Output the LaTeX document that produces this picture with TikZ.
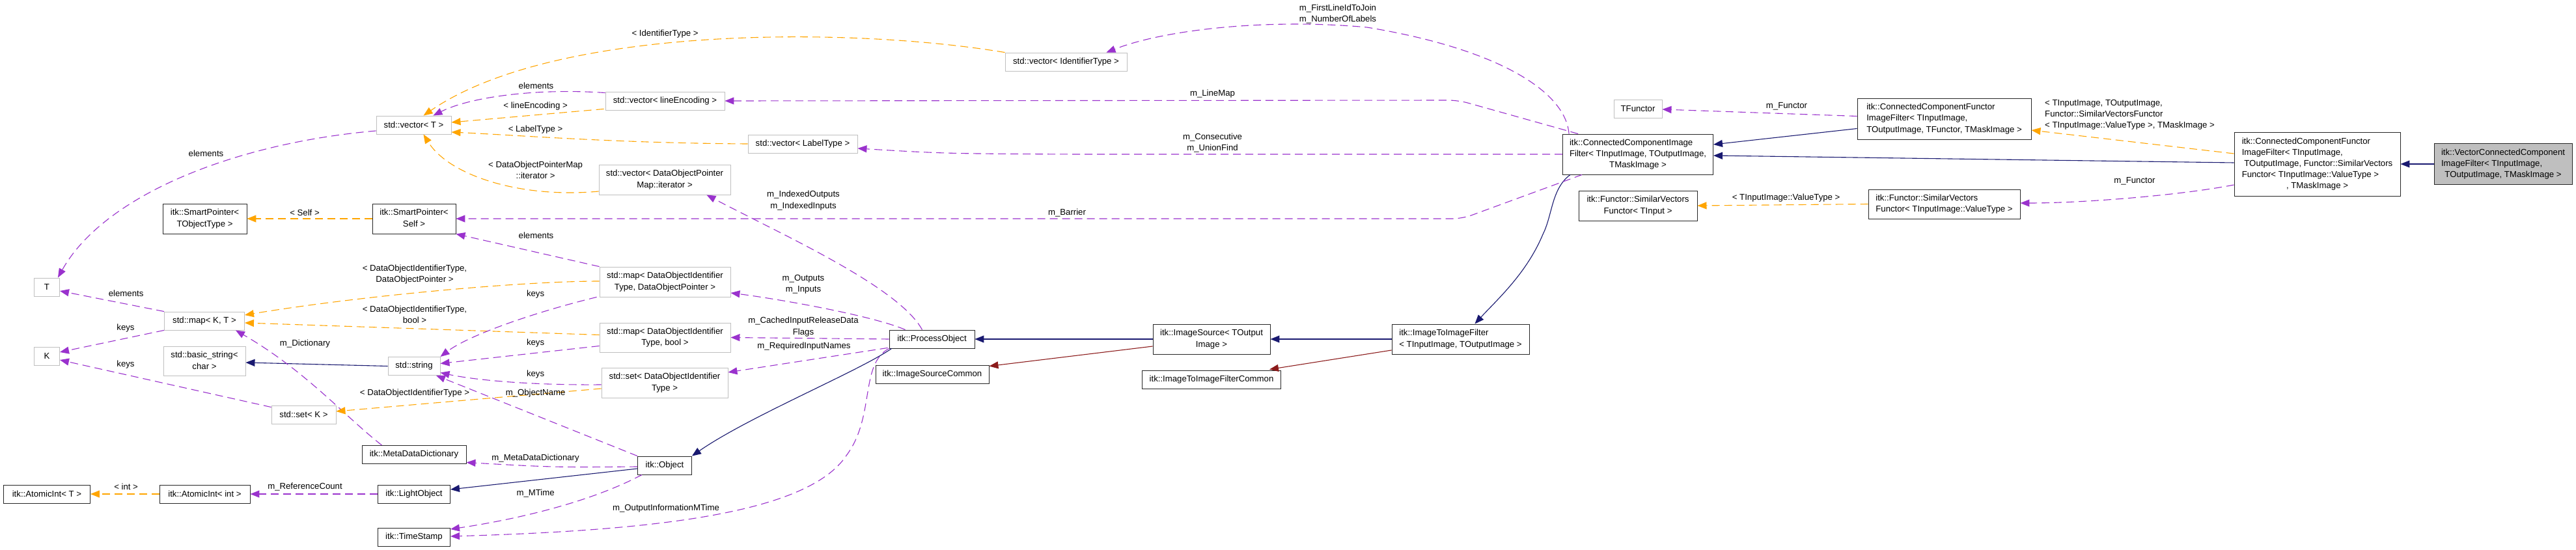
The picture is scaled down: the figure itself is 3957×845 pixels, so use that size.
\documentclass[tikz,border=0pt]{standalone}
\usepackage{fontspec}
\setmainfont{Liberation Sans}
\usetikzlibrary{arrows.meta,calc}
\definecolor{purp}{HTML}{9A32CD}
\definecolor{orng}{HTML}{FFA500}
\definecolor{navyc}{HTML}{191970}
\definecolor{dred}{HTML}{8B1A1A}
\definecolor{gbord}{HTML}{BFBFBF}
\definecolor{gfill}{HTML}{BFBFBF}
\newcommand{\dfont}{\fontsize{13.2}{17.2}\selectfont}
\newcommand{\lns}[2]{\begin{tabular}{@{}l@{}}#1\\\multicolumn{1}{@{}c@{}}{#2}\end{tabular}}
\tikzset{
  every node/.style={font=\dfont},
  nbox/.style={draw=black!85, line width=0.9pt, fill=white, inner sep=0pt},
  tbox/.style={nbox, draw=gbord},
  lab/.style={inner sep=0pt, align=center},
  ebase/.style={line width=1.1pt, -{Triangle[length=14pt,width=11pt]}},
  usee/.style={ebase, draw=purp, dash pattern=on 12pt off 7pt},
  tmpe/.style={ebase, draw=orng, dash pattern=on 12pt off 7pt},
  inhe/.style={ebase, draw=navyc},
  depe/.style={ebase, draw=dred},
}
\begin{document}
\begin{tikzpicture}[x=1pt,y=-1pt]
\fill[white] (0,0) rectangle (3957,845);
\useasboundingbox (0,0) rectangle (3957,845);

% ---------- nodes ----------
\node[tbox, minimum width=39pt, minimum height=28pt] (T) at (72,441) {T};
\node[tbox, minimum width=39pt, minimum height=28pt] (K) at (72,547) {K};
\node[nbox, minimum width=133pt, minimum height=28pt] (aiT) at (72,759) {itk::AtomicInt< T >};

\node[nbox, minimum width=129pt, minimum height=46pt] (spT) at (314.5,336) {\lns{itk::SmartPointer<}{TObjectType >}};
\node[tbox, minimum width=123pt, minimum height=28pt] (mapKT) at (314,493) {std::map< K, T >};
\node[tbox, minimum width=126pt, minimum height=45pt] (bstr) at (314,555) {\lns{std::basic\_string<}{char >}};
\node[nbox, minimum width=139pt, minimum height=28pt] (aiInt) at (314.5,759) {itk::AtomicInt< int >};

\node[tbox, minimum width=115pt, minimum height=28pt] (vecT) at (635.5,192) {std::vector< T >};
\node[nbox, minimum width=128pt, minimum height=46pt] (spSelf) at (636,336) {\lns{itk::SmartPointer<}{Self >}};
\node[tbox, minimum width=80pt, minimum height=28pt] (str) at (636,562.5) {std::string};
\node[tbox, minimum width=99pt, minimum height=28pt] (setK) at (466.5,637) {std::set< K >};
\node[nbox, minimum width=160pt, minimum height=28pt] (mdd) at (636,698.5) {itk::MetaDataDictionary};
\node[nbox, minimum width=111pt, minimum height=28pt] (lobj) at (636,759) {itk::LightObject};
\node[nbox, minimum width=111pt, minimum height=28pt] (ts) at (636,825) {itk::TimeStamp};

\node[tbox, minimum width=183pt, minimum height=28pt] (vecLE) at (1021.5,155) {std::vector< lineEncoding >};
\node[tbox, minimum width=168pt, minimum height=28pt] (vecLT) at (1233,221) {std::vector< LabelType >};
\node[tbox, minimum width=202pt, minimum height=46pt] (vecIt) at (1021,276) {\lns{std::vector< DataObjectPointer}{Map::iterator >}};
\node[tbox, minimum width=201pt, minimum height=46pt] (mapDOP) at (1021.5,433) {\lns{std::map< DataObjectIdentifier}{Type, DataObjectPointer >}};
\node[tbox, minimum width=201pt, minimum height=45pt] (mapBool) at (1021.5,518.5) {\lns{std::map< DataObjectIdentifier}{Type, bool >}};
\node[tbox, minimum width=194pt, minimum height=46pt] (setDOI) at (1021,588) {\lns{std::set< DataObjectIdentifier}{Type >}};
\node[nbox, minimum width=83pt, minimum height=28pt] (obj) at (1021,715) {itk::Object};

\node[nbox, minimum width=131pt, minimum height=28pt] (po) at (1431.5,521) {itk::ProcessObject};
\node[nbox, minimum width=174pt, minimum height=28pt] (isc) at (1432,575) {itk::ImageSourceCommon};
\node[tbox, minimum width=187pt, minimum height=28pt] (vecID) at (1637.5,95) {std::vector< IdentifierType >};

\node[nbox, minimum width=180pt, minimum height=46pt] (is) at (1861,521) {\lns{itk::ImageSource< TOutput}{Image >}};
\node[nbox, minimum width=213pt, minimum height=28pt] (itifc) at (1861,583) {itk::ImageToImageFilterCommon};
\node[nbox, minimum width=211pt, minimum height=46pt] (itif) at (2243.5,521) {\lns{itk::ImageToImageFilter}{< TInputImage, TOutputImage >}};

\node[nbox, minimum width=231pt, minimum height=62pt] (ccif) at (2516,237) {\lns{itk::ConnectedComponentImage\\Filter< TInputImage, TOutputImage,}{TMaskImage >}};
\node[tbox, minimum width=74pt, minimum height=28pt] (tfun) at (2516,167) {TFunctor};
\node[nbox, minimum width=182pt, minimum height=46pt] (svfT) at (2516,316) {\lns{itk::Functor::SimilarVectors}{Functor< TInput >}};

\node[nbox, minimum width=267pt, minimum height=63pt] (ccfifG) at (2986.5,182.5) {\lns{itk::ConnectedComponentFunctor\\ImageFilter< TInputImage,}{TOutputImage, TFunctor, TMaskImage >}};
\node[nbox, minimum width=233pt, minimum height=45pt] (svfVT) at (2986.5,313.5) {\lns{itk::Functor::SimilarVectors}{Functor< TInputImage::ValueType >}};

\node[nbox, minimum width=255pt, minimum height=98pt] (ccfifS) at (3559.5,252) {\lns{itk::ConnectedComponentFunctor\\ImageFilter< TInputImage,\\\ TOutputImage, Functor::SimilarVectors\\Functor< TInputImage::ValueType >}{, TMaskImage >}};
\node[nbox, fill=gfill, minimum width=212pt, minimum height=63pt] (vccif) at (3845,252) {\lns{itk::VectorConnectedComponent\\ImageFilter< TInputImage,}{TOutputImage, TMaskImage >}};

% ---------- edges ----------
\draw[usee] ($(vecT.west)+(0,9)$) .. controls (360,220) and (160,300) .. ($(T.north east)+(-3,0)$);
\draw[usee] (mapKT.north west) -- ($(T.east)+(0,6)$);
\draw[usee] (mapKT.south west) -- ($(K.east)+(0,-6)$);
\draw[usee] ($(setK.north west)+(0,3)$) -- ($(K.east)+(0,6)$);
\draw[tmpe] (spSelf.west) -- (spT.east);
\draw[tmpe] (aiInt.west) -- (aiT.east);
\draw[usee] (lobj.west) -- (aiInt.east);
\draw[inhe] (str.west) -- ($(bstr.east)+(0,2)$);
\draw[usee] ($(mdd.north west)+(31,0)$) .. controls (530,640) and (470,570) .. ($(mapKT.south east)+(-14,0)$);

\draw[usee] ($(vecLE.north west)+(0,2)$) .. controls (820,135) and (720,150) .. ($(vecT.north east)+(-28,0)$);
\draw[tmpe] ($(vecLE.south west)+(-2,-2)$) -- ($(vecT.east)+(0,-4)$);
\draw[tmpe] (vecLT.west) .. controls (950,220) and (800,208) .. ($(vecT.east)+(0,11)$);
\draw[tmpe] ($(vecIt.west)+(0,18)$) .. controls (800,305) and (690,270) .. ($(vecT.south)+(15,0)$);
\draw[tmpe] (vecID.north west) .. controls (1300,40) and (850,40) .. ($(vecT.north)+(15,0)$);
\draw[usee] (mapDOP.north west) -- (spSelf.south east);
\draw[tmpe] ($(mapDOP.west)+(0,-1)$) .. controls (800,432) and (550,455) .. ($(mapKT.east)+(0,-9)$);
\draw[tmpe] ($(mapBool.west)+(0,-4)$) -- ($(mapKT.east)+(0,3)$);
\draw[tmpe] ($(setDOI.west)+(0,9)$) -- ($(setK.east)+(0,-5)$);
\draw[usee] ($(mapDOP.south west)+(-4,0)$) .. controls (820,480) and (720,515) .. (str.north east);
\draw[usee] ($(mapBool.west)+(0,13)$) -- ($(str.east)+(0,-4)$);
\draw[usee] ($(setDOI.west)+(0,3)$) .. controls (800,592) and (720,582) .. ($(str.east)+(0,10)$);
\draw[usee] (obj.north west) -- ($(str.south)+(34,0)$);
\draw[usee] ($(obj.west)+(0,2)$) .. controls (850,718) .. ($(mdd.east)+(0,12)$);
\draw[inhe] ($(obj.west)+(0,5)$) -- ($(lobj.east)+(0,-7)$);
\draw[usee] ($(obj.south west)+(7,0)$) .. controls (900,775) and (780,800) .. ($(ts.east)+(0,-12)$);
\draw[usee] (po.south west) .. controls (1320,560) and (1345,640) .. (1300,700) .. controls (1240,790) and (1000,815) .. ($(ts.east)+(0,-1)$);
\draw[inhe] ($(po.south west)+(4,0)$) .. controls (1320,570) and (1150,640) .. (obj.north east);
\draw[usee] ($(po.north)+(-15,0)$) .. controls (1380,440) and (1200,360) .. ($(vecIt.south east)+(-37,0)$);
\draw[usee] ($(po.north west)+(25,0)$) .. controls (1340,485) and (1200,460) .. ($(mapDOP.east)+(0,17)$);
\draw[usee] (po.west) -- (mapBool.east);
\draw[usee] ($(po.south west)+(-2,-1)$) -- ($(setDOI.east)+(0,-16)$);

\draw[inhe] (is.west) -- (po.east);
\draw[depe] ($(is.west)+(0,11)$) -- ($(isc.north east)+(0,2)$);
\draw[inhe] (itif.west) -- (is.east);
\draw[depe] ($(itif.west)+(0,17)$) -- ($(itifc.north east)+(-18,-1)$);
\draw[inhe] ($(ccif.south west)+(12,0)$) .. controls (2383,290) and (2385,330) .. (2370,360) .. controls (2345,420) and (2300,460) .. ($(itif.north)+(22,0)$);
\draw[inhe] ($(ccfifG.west)+(0,15)$) -- ($(ccif.east)+(0,-15)$);
\draw[inhe] ($(ccfifS.west)+(0,-2)$) -- ($(ccif.east)+(0,2)$);
\draw[usee] ($(ccfifG.west)+(0,-4)$) -- ($(tfun.east)+(0,1)$);
\draw[usee] ($(ccif.north west)+(10,0)$) .. controls (2405,140) and (2300,75) .. (2100,42) .. controls (1950,28) and (1790,45) .. ($(vecID.north east)+(-32,0)$);
\draw[usee, rounded corners=15pt] ($(ccif.north west)+(24,0)$) -- (2240,154) -- (vecLE.east);
\draw[usee] (ccif.west) -- (1650,237) .. controls (1450,236) .. ($(vecLT.east)+(0,7)$);
\draw[usee, rounded corners=15pt] ($(ccif.south west)+(30,0)$) -- (2246,336) -- (spSelf.east);
\draw[tmpe] ($(ccfifS.west)+(0,-16)$) -- ($(ccfifG.east)+(0,17.5)$);
\draw[usee] ($(ccfifS.west)+(0,32)$) .. controls (3350,300) and (3200,312) .. ($(svfVT.east)+(0,-1.5)$);
\draw[tmpe] (svfVT.west) -- (svfT.east);
\draw[inhe] (vccif.west) -- (ccfifS.east);

% ---------- labels ----------
\node[lab] (l1) at (1021.6,52) {< IdentifierType >};
\node[lab] (l2) at (823.5,132) {elements};
\node[lab] (l3) at (822.6,163) {< lineEncoding >};
\node[lab] (l4) at (822.6,199) {< LabelType >};
\node[lab] (l5) at (822.6,261.5) {< DataObjectPointerMap\\::iterator >};
\node[lab] (l6) at (1234,308) {m\_IndexedOutputs\\m\_IndexedInputs};
\node[lab] (l7) at (823.5,362) {elements};
\node[lab] (l8) at (1234,436.5) {m\_Outputs\\m\_Inputs};
\node[lab] (l9) at (822.6,452) {keys};
\node[lab] (l10) at (1234,502) {m\_CachedInputReleaseData\\Flags};
\node[lab] (l11) at (822.6,527) {keys};
\node[lab] (l12) at (1235,532) {m\_RequiredInputNames};
\node[lab] (l13) at (822.6,575) {keys};
\node[lab] (l14) at (822.6,604) {m\_ObjectName};
\node[lab] (l15) at (822.6,704) {m\_MetaDataDictionary};
\node[lab] (l16) at (822.6,758) {m\_MTime};
\node[lab] (l17) at (1023,781) {m\_OutputInformationMTime};
\node[lab] (l18) at (316.5,236) {elements};
\node[lab] (l19) at (468,327) {< Self >};
\node[lab] (l20) at (637,421.5) {< DataObjectIdentifierType,\\DataObjectPointer >};
\node[lab] (l21) at (637,483) {< DataObjectIdentifierType,\\bool >};
\node[lab] (l22) at (637,604) {< DataObjectIdentifierType >};
\node[lab] (l23) at (193.6,451) {elements};
\node[lab] (l24) at (193,504) {keys};
\node[lab] (l25) at (193,560) {keys};
\node[lab] (l26) at (468.5,528) {m\_Dictionary};
\node[lab] (l27) at (193.6,748) {< int >};
\node[lab] (l28) at (468.5,748) {m\_ReferenceCount};
\node[lab] (l29) at (1862.5,144) {m\_LineMap};
\node[lab] (l30) at (1862.5,219.5) {m\_Consecutive\\m\_UnionFind};
\node[lab] (l31) at (1639,327) {m\_Barrier};
\node[lab] (l32) at (2055,21.5) {m\_FirstLineIdToJoin\\m\_NumberOfLabels};
\node[lab] (l33) at (2744.5,163) {m\_Functor};
\node[lab] (l34) at (2743.6,304) {< TInputImage::ValueType >};
\node[lab, anchor=west, align=left] (l35) at (3141,176) {< TInputImage, TOutputImage,\\Functor::SimilarVectorsFunctor\\< TInputImage::ValueType >, TMaskImage >};
\node[lab] (l36) at (3279,278) {m\_Functor};
\end{tikzpicture}
\end{document}
